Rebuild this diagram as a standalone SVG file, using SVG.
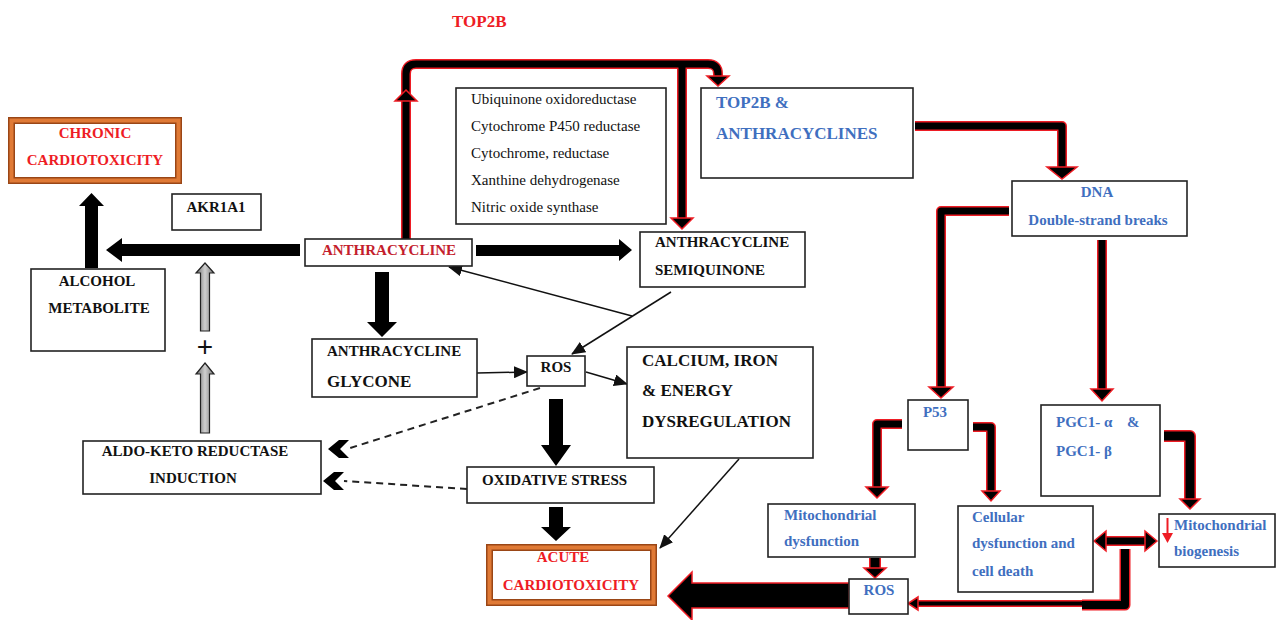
<svg xmlns="http://www.w3.org/2000/svg" width="1278" height="620" viewBox="0 0 1278 620">
<defs>
<style>
.box{fill:#fff;stroke:#222;stroke-width:1.6}
.t{font-family:"Liberation Serif","Times New Roman",serif;font-weight:bold;font-size:15px;fill:#111}
.reg{font-weight:normal}
.big{font-size:17px}
.blue{fill:#3f6fbf}
.red{fill:#ee1c24}
.dred{fill:#c41e2d}
.mid{text-anchor:middle}
.ro{fill:none;stroke:#ee1c24;stroke-linejoin:round}
.bk{fill:none;stroke:#000;stroke-linejoin:round}
.rh{fill:#000;stroke:#ee1c24;stroke-width:1.5;stroke-linejoin:miter}
.solid{fill:#000}
.thin{fill:none;stroke:#111;stroke-width:1.5}
.dash{fill:none;stroke:#222;stroke-width:2;stroke-dasharray:7 5}
.gray{fill:url(#gg);stroke:#222;stroke-width:1.2}
.frameO{fill:#fff;stroke:#9a4616;stroke-width:7}
.frameI{fill:none;stroke:#e07a36;stroke-width:4}
</style>
<linearGradient id="gg" x1="0" y1="0" x2="1" y2="0">
<stop offset="0" stop-color="#6a6a6a"/>
<stop offset="0.5" stop-color="#cfcfcf"/>
<stop offset="1" stop-color="#777"/>
</linearGradient>
<marker id="ah" viewBox="0 0 14 12" markerWidth="14" markerHeight="12" refX="13" refY="6" orient="auto" markerUnits="userSpaceOnUse">
<path d="M0,0 L14,6 L0,12 z" fill="#111"/>
</marker>
</defs>
<rect width="1278" height="620" fill="#fff"/>

<g id="connectors">
<!-- thick black arrows -->
<polygon class="solid" points="106,250 122,238 122,244 300,244 300,256 122,256 122,262"/>
<polygon class="solid" points="632,250 619,239 619,245 476,245 476,256 619,256 619,261"/>
<polygon class="solid" points="91.5,193 104,206 98,206 98,268 85,268 85,206 79,206"/>
<polygon class="solid" points="382,337 397,322 389,322 389,272 375,272 375,322 367,322"/>
<polygon class="solid" points="556,466 571,445 563,445 563,399 549,399 549,445 541,445"/>
<polygon class="solid" points="556,541 571,527 563,527 563,507 549,507 549,527 541,527"/>
<!-- gray hollow arrows -->
<polygon class="gray" points="205,263 214,273 209.5,273 209.5,331 200.5,331 200.5,273 196,273"/>
<polygon class="gray" points="205,363 214,374 209.5,374 209.5,433 200.5,433 200.5,374 196,374"/>
<text class="t reg" x="205" y="356" style="font-family:'Liberation Sans',Arial,sans-serif;font-size:28px" text-anchor="middle">+</text>
<!-- thin arrows -->
<line class="thin" x1="671" y1="292" x2="572" y2="354" marker-end="url(#ah)"/>
<line class="thin" x1="632" y1="316" x2="449" y2="267" marker-end="url(#ah)"/>
<line class="thin" x1="477" y1="373" x2="527" y2="372" marker-end="url(#ah)"/>
<line class="thin" x1="586" y1="372" x2="627" y2="384" marker-end="url(#ah)"/>
<line class="thin" x1="739" y1="459" x2="660" y2="548" marker-end="url(#ah)"/>
<!-- dashed with chevrons -->
<line class="dash" x1="540" y1="388" x2="347" y2="449"/>
<line class="dash" x1="467" y1="489" x2="344" y2="481"/>
<polygon fill="#000" points="328,449 339,440 349,440 340,449 349,458 339,458"/>
<polygon fill="#000" points="323,481 334,472 344,472 335,481 344,490 334,490"/>
<!-- red outlined connectors: outlines -->
<g class="ro" stroke-width="10">
<path d="M406,239 V74 Q406,64 416,64 H708 Q718,64 718,74 V77"/>
<path d="M682,64 V219"/>
<path d="M915,126 H1062 V168"/>
<path d="M1009,211 H941 V388"/>
<path d="M1102,240 V390"/>
<path d="M902,424 H877 V488"/>
<path d="M973,427 H991 V492"/>
<path d="M1164,436 H1190 V500" stroke-width="12"/>
<path d="M1105,541 H1146"/>
<path d="M1125,549 V605 H1082" stroke-width="11"/>
<path d="M1084,603.5 H914" stroke-width="7"/>
<path d="M875,558 V569" stroke-width="12"/>
</g>
<g class="bk" stroke-width="7">
<path d="M406,239 V74 Q406,64 416,64 H708 Q718,64 718,74 V77"/>
<path d="M682,64 V219"/>
<path d="M915,126 H1062 V168"/>
<path d="M1009,211 H941 V388"/>
<path d="M1102,240 V390"/>
<path d="M902,424 H877 V488"/>
<path d="M973,427 H991 V492"/>
<path d="M1164,436 H1190 V500" stroke-width="9"/>
<path d="M1105,541 H1146"/>
<path d="M1125,549 V605 H1082" stroke-width="8"/>
<path d="M1084,603.5 H914" stroke-width="4"/>
<path d="M875,558 V569" stroke-width="9"/>
</g>
<!-- red outlined heads -->
<polygon class="rh" points="707,76 729,76 718,86"/>
<polygon class="rh" points="671,218 693,218 682,229"/>
<polygon class="rh" points="406,90 417,101 395,101"/>
<polygon class="rh" points="1047,167 1077,167 1062,179"/>
<polygon class="rh" points="929,387 953,387 941,398"/>
<polygon class="rh" points="1091,389 1113,389 1102,401"/>
<polygon class="rh" points="866,487 888,487 877,498"/>
<polygon class="rh" points="982,491 1000,491 991,501"/>
<polygon class="rh" points="1180,499 1200,499 1190,509"/>
<polygon class="rh" points="1094,541 1106,531 1106,551"/>
<polygon class="rh" points="1157,541 1145,531 1145,551"/>
<polygon class="rh" points="908,603.5 918,597 918,610"/>
<polygon class="rh" points="864,568 886,568 875,578"/>
<polygon class="rh" points="668,596 692,572 692,583 849,583 849,608 692,608 692,620"/>
</g>

<g id="label-top2b">
<text class="t red big" x="452" y="27">TOP2B</text>
</g>

<g id="chronic">
<rect class="frameO" x="11.5" y="120.5" width="167" height="60"/>
<rect class="frameI" x="11.5" y="120.5" width="167" height="60"/>
<text class="t red mid" x="95" y="138">CHRONIC</text>
<text class="t red mid" x="95" y="165">CARDIOTOXICITY</text>
</g>

<g id="akr1a1">
<rect class="box" x="172" y="194" width="89" height="36"/>
<text class="t mid" x="216" y="212">AKR1A1</text>
</g>

<g id="anthracycline">
<rect class="box" x="305" y="239" width="167" height="27"/>
<text class="t dred mid" x="389" y="255">ANTHRACYCLINE</text>
</g>

<g id="enzymes">
<rect class="box" x="456" y="88" width="210" height="136"/>
<text class="t reg" x="471" y="104">Ubiquinone oxidoreductase</text>
<text class="t reg" x="471" y="131">Cytochrome P450 reductase</text>
<text class="t reg" x="471" y="158">Cytochrome, reductase</text>
<text class="t reg" x="471" y="185">Xanthine dehydrogenase</text>
<text class="t reg" x="471" y="212">Nitric oxide synthase</text>
</g>

<g id="top2b-anth">
<rect class="box" x="701" y="88" width="212" height="90"/>
<text class="t big blue" x="716" y="108">TOP2B &amp;</text>
<text class="t big blue" x="716" y="139">ANTHRACYCLINES</text>
</g>

<g id="semiquinone">
<rect class="box" x="640" y="232" width="165" height="55"/>
<text class="t" x="655" y="247">ANTHRACYCLINE</text>
<text class="t" x="655" y="275">SEMIQUINONE</text>
</g>

<g id="dna">
<rect class="box" x="1012" y="181" width="175" height="55"/>
<text class="t blue mid" x="1097" y="197">DNA</text>
<text class="t blue mid" x="1098" y="225">Double-strand breaks</text>
</g>

<g id="alcohol">
<rect class="box" x="31" y="269" width="134" height="82"/>
<text class="t mid" x="97" y="286">ALCOHOL</text>
<text class="t mid" x="99" y="313">METABOLITE</text>
</g>

<g id="glycone">
<rect class="box" x="312" y="339" width="165" height="58"/>
<text class="t" x="327" y="356">ANTHRACYCLINE</text>
<text class="t big" x="327" y="387">GLYCONE</text>
</g>

<g id="ros">
<rect class="box" x="527" y="356" width="58" height="30"/>
<text class="t mid" x="556" y="372">ROS</text>
</g>

<g id="calcium">
<rect class="box" x="627" y="347" width="186" height="111"/>
<text class="t big" x="642" y="366">CALCIUM, IRON</text>
<text class="t big" x="642" y="396">&amp; ENERGY</text>
<text class="t big" x="642" y="427">DYSREGULATION</text>
</g>

<g id="aldo-keto">
<rect class="box" x="83" y="441" width="238" height="53"/>
<text class="t mid" x="195" y="456">ALDO-KETO REDUCTASE</text>
<text class="t mid" x="193" y="483">INDUCTION</text>
</g>

<g id="oxidative">
<rect class="box" x="467" y="467" width="187" height="36"/>
<text class="t" x="482" y="485">OXIDATIVE STRESS</text>
</g>

<g id="acute">
<rect class="frameO" x="489.5" y="547.5" width="164" height="55"/>
<rect class="frameI" x="489.5" y="547.5" width="164" height="55"/>
<text class="t red mid" x="563" y="562">ACUTE</text>
<text class="t red mid" x="571" y="590">CARDIOTOXICITY</text>
</g>

<g id="p53">
<rect class="box" x="908" y="400" width="60" height="50"/>
<text class="t blue mid" x="935" y="417">P53</text>
</g>

<g id="pgc1">
<rect class="box" x="1041" y="405" width="119" height="91"/>
<text class="t blue" x="1056" y="427">PGC1- α<tspan x="1127">&amp;</tspan></text>
<text class="t blue" x="1056" y="456">PGC1- β</text>
</g>

<g id="mito-dysfunction">
<rect class="box" x="768" y="504" width="147" height="53"/>
<text class="t blue" x="784" y="520">Mitochondrial</text>
<text class="t blue" x="784" y="546">dysfunction</text>
</g>

<g id="cellular">
<rect class="box" x="958" y="506" width="135" height="86"/>
<text class="t blue" x="972" y="522">Cellular</text>
<text class="t blue" x="972" y="548">dysfunction and</text>
<text class="t blue" x="972" y="576">cell death</text>
</g>

<g id="mito-biogenesis">
<rect class="box" x="1159" y="514" width="116" height="53"/>
<text class="t blue" x="1174" y="530">Mitochondrial</text>
<text class="t blue" x="1174" y="556">biogenesis</text>
<line x1="1167.5" y1="518" x2="1167.5" y2="534" stroke="#ee1c24" stroke-width="2"/>
<polygon points="1162,533 1173,533 1167.5,543" fill="#ee1c24"/>
</g>

<g id="ros-bottom">
<rect class="box" x="849" y="579" width="59" height="35"/>
<text class="t blue mid" x="879" y="595">ROS</text>
</g>
</svg>
